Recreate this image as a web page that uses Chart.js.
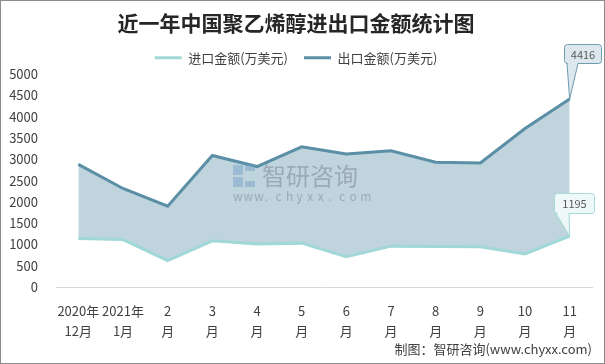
<!DOCTYPE html>
<html>
<head>
<meta charset="utf-8">
<script src="https://cdn.jsdelivr.net/npm/chart.js@4"></script>
<style>
  html, body { margin: 0; padding: 0; background: #fff; }
  #wrap { width: 605px; height: 364px; }
</style>
</head>
<body>
<div id="wrap"><canvas id="myChart" width="605" height="364"></canvas></div>
<script>
// months, first two carry the year
const months = [
  ['2020年', '12月'], ['2021年', '1月'], ['2', '月'], ['3', '月'], ['4', '月'], ['5', '月'],
  ['6', '月'], ['7', '月'], ['8', '月'], ['9', '月'], ['10', '月'], ['11', '月']
];
const importValues = [1140, 1115, 620, 1085, 1010, 1030, 710, 960, 950, 945, 775, 1195];
const exportValues = [2880, 2315, 1900, 3090, 2830, 3295, 3125, 3200, 2930, 2915, 3725, 4416];
const yTicks = [0, 500, 1000, 1500, 2000, 2500, 3000, 3500, 4000, 4500, 5000];

const FONT = '"Noto Sans CJK SC", "Microsoft YaHei", sans-serif';
const IMPORT_COLOR = '#9fd8d6';
const EXPORT_COLOR = '#5a8fa6';
const FILL_COLOR = '#bfd4dd';

// frame, watermark, footer and the two callouts
const extras = {
  id: 'extras',
  afterDatasetsDraw(chart) {
    const { ctx } = chart;
    ctx.save();
    // logo blocks
    ctx.fillStyle = 'rgba(110,160,200,0.45)';
    ctx.fillRect(233, 165, 10, 10);
    ctx.fillRect(233, 177, 10, 10);
    ctx.fillRect(245, 165, 10, 6);
    ctx.fillRect(245, 181, 10, 6);
    ctx.fillStyle = 'rgba(110,120,130,0.45)';
    ctx.font = '24px ' + FONT;
    ctx.textBaseline = 'middle';
    ctx.textAlign = 'left';
    ctx.fillText('智研咨询', 262, 176);
    ctx.font = '12px ' + FONT;
    const wm = 'www.chyxx.com';
    let x = 233;
    for (const ch of wm) {
      ctx.fillText(ch, x, 196);
      x += 10.6;
    }
    ctx.restore();
  },
  afterDraw(chart) {
    const { ctx } = chart;
    ctx.save();
    ctx.strokeStyle = '#8c8c8c';
    ctx.lineWidth = 1;
    ctx.strokeRect(0.5, 0.5, 604, 363);

    ctx.fillStyle = '#404040';
    ctx.font = '13px ' + FONT;
    ctx.textAlign = 'right';
    ctx.textBaseline = 'middle';
    ctx.fillText('制图：智研咨询(www.chyxx.com)', 592, 349);

    const last = months.length - 1;
    const drawCallout = (dsIndex, value, box, border, fill) => {
      const pt = chart.getDatasetMeta(dsIndex).data[last];
      ctx.beginPath();
      const r = 3;
      const { l, t, w, h, a, b } = box;
      ctx.moveTo(l + r, t);
      ctx.lineTo(l + w - r, t);
      ctx.arcTo(l + w, t, l + w, t + r, r);
      ctx.lineTo(l + w, t + h - r);
      ctx.arcTo(l + w, t + h, l + w - r, t + h, r);
      ctx.lineTo(b, t + h);
      ctx.lineTo(pt.x, pt.y);
      ctx.lineTo(a, t + h);
      ctx.lineTo(l + r, t + h);
      ctx.arcTo(l, t + h, l, t + h - r, r);
      ctx.lineTo(l, t + r);
      ctx.arcTo(l, t, l + r, t, r);
      ctx.closePath();
      ctx.fillStyle = fill;
      ctx.fill();
      ctx.strokeStyle = border;
      ctx.lineWidth = 1;
      ctx.stroke();
      ctx.fillStyle = '#595959';
      ctx.font = '11px ' + FONT;
      ctx.textAlign = 'center';
      ctx.fillText(String(value), l + w / 2, t + h / 2 + 0.5);
    };
    drawCallout(1, exportValues[last], { l: 564.5, t: 44.5, w: 37, h: 19, a: 567, b: 578 }, '#6d9bb0', '#dde8ee');
    drawCallout(0, importValues[last], { l: 554.5, t: 193.5, w: 40, h: 20, a: 556, b: 569 }, '#a5dcd8', '#eef8f8');
    ctx.restore();
  }
};

new Chart(document.getElementById('myChart').getContext('2d'), {
  type: 'line',
  data: {
    labels: months,
    datasets: [
      {
        label: '进口金额(万美元)',
        data: importValues,
        borderColor: IMPORT_COLOR,
        backgroundColor: IMPORT_COLOR,
        borderWidth: 3,
        pointRadius: 0,
        tension: 0,
        fill: false
      },
      {
        label: '出口金额(万美元)',
        data: exportValues,
        borderColor: EXPORT_COLOR,
        backgroundColor: FILL_COLOR,
        borderWidth: 3,
        pointRadius: 0,
        tension: 0,
        fill: '-1'
      }
    ]
  },
  options: {
    responsive: false,
    animation: false,
    events: [],
    layout: { padding: { left: 0, right: 13, top: 0, bottom: 0 } },
    plugins: {
      title: {
        display: true,
        text: '近一年中国聚乙烯醇进出口金额统计图',
        color: '#262626',
        font: { family: FONT, size: 21, weight: 'bold' },
        padding: { top: 10, bottom: 0 }
      },
      legend: {
        display: true,
        labels: {
          color: '#404040',
          font: { family: FONT, size: 13 },
          boxWidth: 27,
          boxHeight: 3,
          padding: 16,
          generateLabels(chart) {
            return chart.data.datasets.map((ds, i) => ({
              text: ds.label,
              fillStyle: ds.borderColor,
              strokeStyle: ds.borderColor,
              lineWidth: 0,
              fontColor: '#404040',
              datasetIndex: i
            }));
          }
        }
      },
      tooltip: { enabled: false }
    },
    scales: {
      x: {
        offset: true,
        grid: { display: false },
        border: { display: true, color: '#d9d9d9', width: 1 },
        ticks: {
          color: '#404040',
          font: { family: FONT, size: 13, lineHeight: 1.55 },
          maxRotation: 0,
          autoSkip: false,
          padding: 6
        },
        afterFit(scale) { scale.height = 77; }
      },
      y: {
        min: 0,
        max: 5000,
        afterBuildTicks(scale) { scale.ticks = yTicks.map(v => ({ value: v })); },
        grid: { display: false },
        border: { display: false },
        ticks: {
          color: '#404040',
          font: { family: FONT, size: 13 },
          padding: 10,
          callback: v => String(v)
        },
        afterFit(scale) { scale.width = 56; }
      }
    }
  },
  plugins: [extras]
});
</script>
</body>
</html>
